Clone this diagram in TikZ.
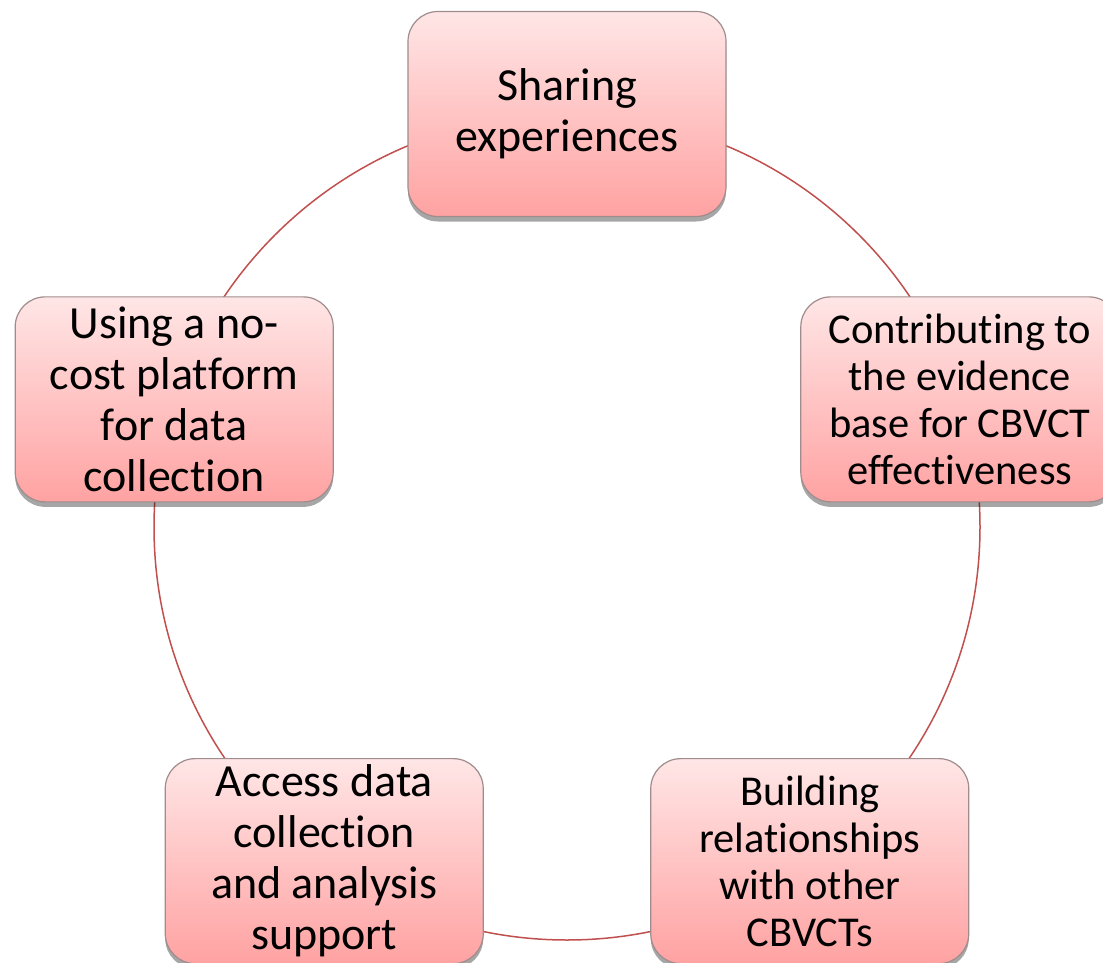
\documentclass[tikz,border=0pt]{standalone}
\usepackage{fontspec}
\setmainfont{Carlito}[Ligatures={NoCommon,NoContextual}]
\usetikzlibrary{shadows,calc}
\definecolor{cbtop}{RGB}{255,230,230}
\definecolor{cbbot}{RGB}{255,162,162}
\definecolor{cbring}{RGB}{192,80,77}
\definecolor{cbedge}{RGB}{160,140,140}
\tikzset{cbbox/.style={draw=cbedge,line width=1.2pt,rounded corners=30pt,minimum width=318pt,minimum height=205pt,top color=cbtop,bottom color=cbbot,align=center,inner sep=0pt,drop shadow={shadow xshift=0pt,shadow yshift=-5pt,fill=black,opacity=0.35}},
cbbig/.style={font=\fontsize{46}{51}\selectfont},
cbsmall/.style={font=\fontsize{42.5}{47}\selectfont}}
\begin{document}
\begin{tikzpicture}[x=1pt,y=-1pt]
\pgfmathsetmacro{\kring}{413}
\useasboundingbox(0,0)rectangle(1103,963);
\coordinate(ctr)at(567,527);
\draw[cbring,line width=1.5pt](ctr)circle[radius=\kring pt];
\foreach \ka/\kn/\ks/\kt in {-90/share/cbbig/{Sharing\\experiences},-18/evid/cbsmall/{Contributing to\\the evidence\\base for CBVCT\\effectiveness},54/relat/cbsmall/{Building\\relationships\\with other\\CBVCTs},126/access/cbbig/{Access data\\collection\\and analysis\\support},198/platf/cbbig/{Using a no-\\cost platform\\for data\\collection}}{\node[cbbox,\ks](\kn)at($(ctr)+(\ka:\kring)$){\kt};}
\end{tikzpicture}
\end{document}
